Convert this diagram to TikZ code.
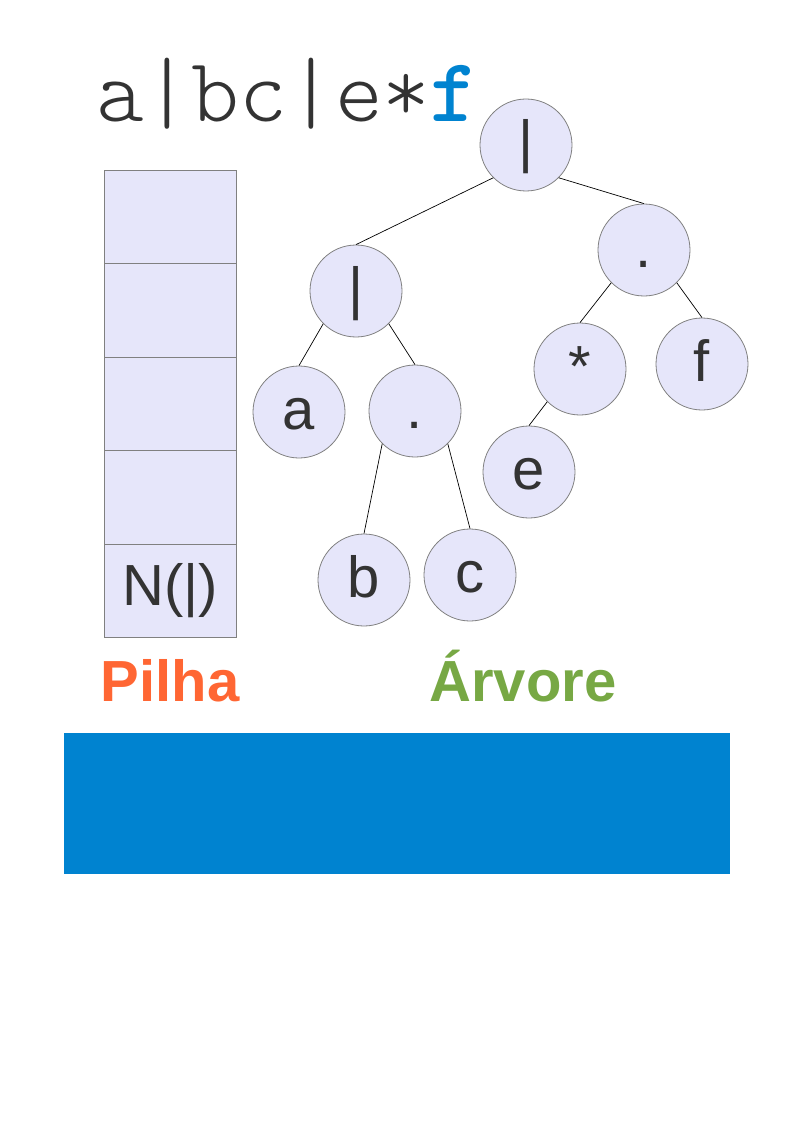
\documentclass[tikz,border=0pt]{standalone}
\usepackage{fontspec}
\setmainfont{Liberation Sans}
\newfontfamily\lightmono{Latin Modern Mono Light}
\definecolor{txt}{HTML}{333333}
\definecolor{lav}{HTML}{E6E6FA}
\definecolor{edgegray}{HTML}{808080}
\definecolor{blu}{HTML}{0083D0}
\definecolor{orng}{HTML}{FF6633}
\definecolor{grn}{HTML}{77A844}
\begin{document}
\begin{tikzpicture}[x=1pt,y=-1pt,
  tnode/.style={circle,draw=edgegray,fill=lav,line width=0.8pt,minimum size=92pt,inner sep=0pt,text=txt,font=\fontsize{58}{60}\selectfont,text height=46pt,text depth=12pt},
  cell/.style={draw=edgegray,fill=lav,line width=0.8pt,minimum width=132pt,minimum height=93.4pt,inner sep=0pt,anchor=north west,text=txt,font=\fontsize{58}{60}\selectfont},
  link/.style={draw=black,line width=0.7pt},
  label/.style={font=\bfseries\fontsize{58}{60}\selectfont}]
\useasboundingbox (0,0) rectangle (794,1123);
% title
\node[anchor=base west,inner sep=0pt,text=txt,font=\lightmono\fontsize{91}{92}\selectfont] (title) at (96,122) {a|bc|e*\textcolor{blu}{\ttfamily\bfseries f}};
% stack
\node[cell] (s1) at (104,170) {};
\node[cell] (s2) at (104,263.4) {};
\node[cell] (s3) at (104,356.8) {};
\node[cell] (s4) at (104,450.2) {};
\node[cell] (s5) at (104,543.6) {N(|)};
% tree
\node[tnode] (root) at (526,145) {|};
\node[tnode] (l1) at (356,291) {|};
\node[tnode] (r1) at (644,250) {.};
\node[tnode] (a) at (299,412) {a};
\node[tnode] (d2) at (415,411) {.};
\node[tnode] (st) at (580,369) {*};
\node[tnode] (f) at (702,364) {f};
\node[tnode] (e) at (529,472) {e};
\node[tnode] (b) at (364,580) {b};
\node[tnode] (c) at (470,575) {c};
\draw[link] (root.south west) -- (l1.north);
\draw[link] (root.south east) -- (r1.north);
\draw[link] (l1.south west) -- (a.north);
\draw[link] (l1.south east) -- (d2.north);
\draw[link] (d2.south west) -- (b.north);
\draw[link] (d2.south east) -- (c.north);
\draw[link] (r1.south west) -- (st.north);
\draw[link] (r1.south east) -- (f.north);
\draw[link] (st.south west) -- (e.north);
% labels
\node[label,text=orng,anchor=base] (pilha) at (170,701) {Pilha};
\node[label,text=grn,anchor=base] (arvore) at (523,701) {Árvore};
% blue bar
\fill[blu] (64,733) rectangle (730,874);
\end{tikzpicture}
\end{document}
